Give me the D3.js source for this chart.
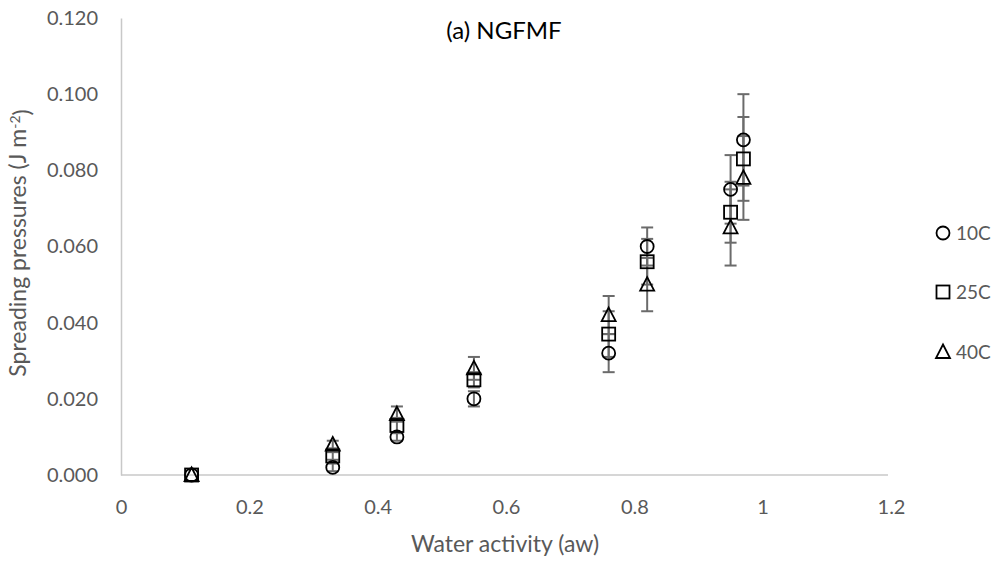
<!DOCTYPE html>
<html>
<head>
<meta charset="utf-8">
<script src="https://cdn.jsdelivr.net/npm/d3@7"></script>
<style>
  body { margin: 0; background: #fff; }
  text { font-family: Lato, "Open Sans", "Liberation Sans", sans-serif; }
</style>
</head>
<body>
<div id="chart"></div>
<script>
// water activity (x) and spreading pressures per temperature
var aw = [0.11, 0.33, 0.43, 0.55, 0.76, 0.82, 0.95, 0.97];
var p10 = [0.000, 0.002, 0.010, 0.020, 0.032, 0.060, 0.075, 0.088];
var p25 = [0.000, 0.005, 0.013, 0.025, 0.037, 0.056, 0.069, 0.083];
var p40 = [0.000, 0.008, 0.016, 0.028, 0.042, 0.050, 0.065, 0.078];
// error bar half-widths
var e10 = [0.000, 0.001, 0.001, 0.002, 0.005, 0.005, 0.009, 0.012];
var e25 = [0.000, 0.001, 0.002, 0.002, 0.006, 0.006, 0.008, 0.011];
var e40 = [0.000, 0.001, 0.002, 0.003, 0.005, 0.007, 0.010, 0.011];
var seriesNames = ["10C", "25C", "40C"];
var xTicks = [0, 0.2, 0.4, 0.6, 0.8, 1, 1.2];
var yTicks = [0, 0.02, 0.04, 0.06, 0.08, 0.1, 0.12];

var width = 1000, height = 563;
var margin = { top: 18, right: 110, bottom: 88, left: 121 };

var svg = d3.select("#chart").append("svg")
    .attr("width", width)
    .attr("height", height);

var x = d3.scaleLinear().domain([0, 1.2]).range([margin.left, 891]);
var y = d3.scaleLinear().domain([0, 0.12]).range([height - margin.bottom, margin.top]);

var series = [
    { name: seriesNames[0], vals: p10, err: e10, shape: "circle" },
    { name: seriesNames[1], vals: p25, err: e25, shape: "square" },
    { name: seriesNames[2], vals: p40, err: e40, shape: "triangle" }
];

// axes (Excel style: no tick marks, light grey line)
var xAxis = d3.axisBottom(x).tickValues(xTicks).tickSize(0)
    .tickFormat(function (d) { return d3.format("")(d); });
var yAxis = d3.axisLeft(y).tickValues(yTicks).tickSize(0).tickPadding(23)
    .tickFormat(d3.format(".3f"));

var gx = svg.append("g")
    .attr("transform", "translate(0," + y(0) + ")")
    .call(xAxis);
gx.select(".domain").attr("stroke", "#c8c8c8").attr("stroke-width", 1.5).attr("d", "M" + x(0) + ",0H888");

var gy = svg.append("g")
    .attr("transform", "translate(" + x(0) + ",0)")
    .call(yAxis);
gy.select(".domain").attr("stroke", "#c8c8c8").attr("stroke-width", 1.5);

svg.selectAll(".tick text")
    .attr("fill", "#595959")
    .style("font-size", "20px");
gx.selectAll(".tick text").attr("dy", "0.35em").attr("y", 32);

// error bars
series.forEach(function (s) {
    var g = svg.append("g").attr("stroke", "#6b6b6b").attr("stroke-width", 2);
    aw.forEach(function (a, i) {
        if (s.err[i] <= 0) return;
        var cx = x(a), top = y(s.vals[i] + s.err[i]), bot = y(s.vals[i] - s.err[i]);
        g.append("line").attr("x1", cx).attr("x2", cx).attr("y1", top).attr("y2", bot);
        g.append("line").attr("x1", cx - 6).attr("x2", cx + 6).attr("y1", top).attr("y2", top);
        g.append("line").attr("x1", cx - 6).attr("x2", cx + 6).attr("y1", bot).attr("y2", bot);
    });
});

function drawMarker(g, shape, cx, cy) {
    if (shape === "circle") {
        g.append("circle").attr("cx", cx).attr("cy", cy).attr("r", 6.5);
    } else if (shape === "square") {
        g.append("rect").attr("x", cx - 6.5).attr("y", cy - 6.5).attr("width", 13).attr("height", 13);
    } else {
        g.append("path").attr("d", "M" + cx + "," + (cy - 7.5) + "L" + (cx + 7) + "," + (cy + 6) + "L" + (cx - 7) + "," + (cy + 6) + "Z");
    }
}

// markers
series.forEach(function (s) {
    var g = svg.append("g").attr("fill", "none").attr("stroke", "#000").attr("stroke-width", 1.8);
    aw.forEach(function (a, i) {
        drawMarker(g, s.shape, x(a), y(s.vals[i]));
    });
});

// legend
var legendY = [233, 292, 352];
series.forEach(function (s, i) {
    var g = svg.append("g").attr("fill", "none").attr("stroke", "#000").attr("stroke-width", 1.8);
    drawMarker(g, s.shape, 943, legendY[i]);
    svg.append("text")
        .attr("x", 956)
        .attr("y", legendY[i])
        .attr("dy", "0.35em")
        .attr("fill", "#595959")
        .style("font-size", "19px")
        .text(s.name);
});

// title
svg.append("text")
    .attr("x", 504)
    .attr("y", 31)
    .attr("dy", "0.35em")
    .attr("text-anchor", "middle")
    .attr("fill", "#000")
    .style("font-size", "24px")
    .text("(a) NGFMF");

// axis titles
svg.append("text")
    .attr("x", 505)
    .attr("y", 544)
    .attr("dy", "0.35em")
    .attr("text-anchor", "middle")
    .attr("fill", "#595959")
    .style("font-size", "23px")
    .text("Water activity (aw)");

var yt = svg.append("text")
    .attr("transform", "translate(18,243) rotate(-90)")
    .attr("dy", "0.35em")
    .attr("text-anchor", "middle")
    .attr("fill", "#595959")
    .style("font-size", "23px");
yt.append("tspan").text("Spreading pressures (J m");
yt.append("tspan").attr("dy", "-0.45em").style("font-size", "14px").text("-2");
yt.append("tspan").attr("dy", "0.45em").text(")");
</script>
</body>
</html>
